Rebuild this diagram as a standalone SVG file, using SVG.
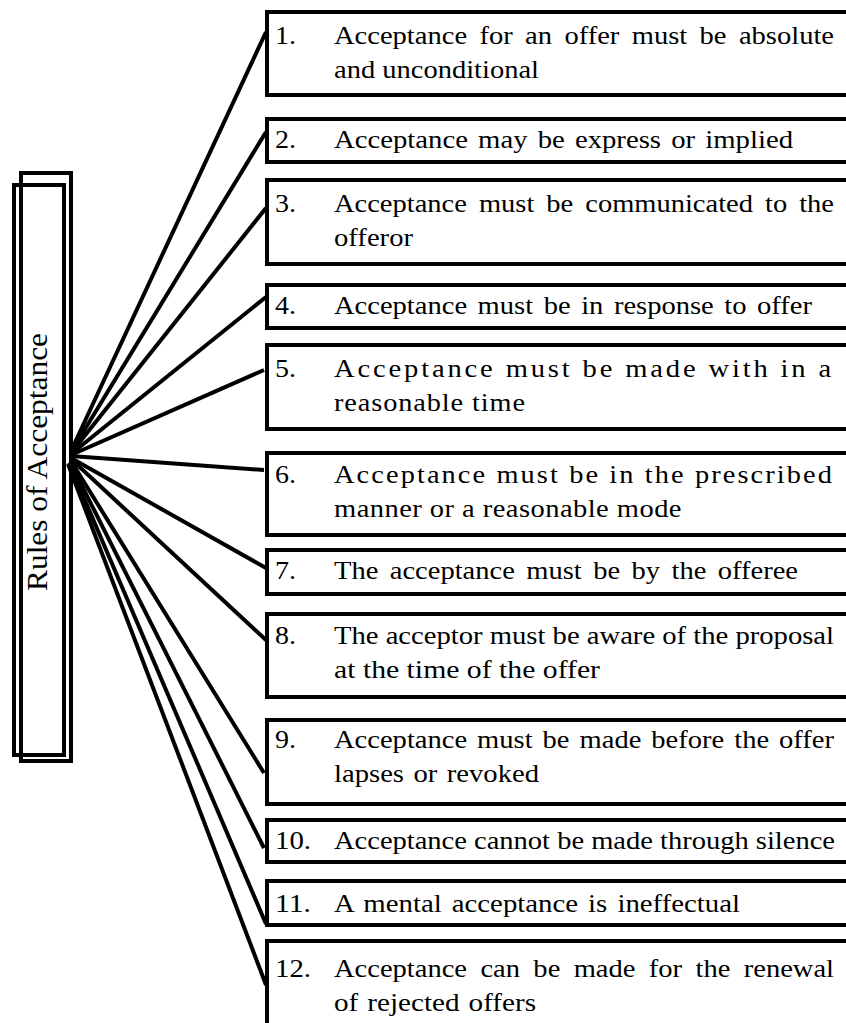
<svg xmlns="http://www.w3.org/2000/svg" width="846" height="1023" viewBox="0 0 846 1023">
  <style>
    .box { fill: #fff; stroke: #000; stroke-width: 4; }
    .frame { fill: none; stroke: #000; stroke-width: 4; }
    .conn line { stroke: #000; stroke-width: 4; stroke-linecap: butt; }
    text { font-family: "Liberation Serif", "Times New Roman", serif; font-size: 25px; fill: #000; }
    .title { font-size: 30px; }
  </style>

  <!-- connectors from the title bar to each rule -->
  <g id="connectors" class="conn">
    <line x1="71" y1="451" x2="266" y2="32"/>
    <line x1="71" y1="452" x2="266" y2="132"/>
    <line x1="71" y1="453" x2="266" y2="208"/>
    <line x1="71" y1="454" x2="266" y2="297"/>
    <line x1="71" y1="455" x2="264" y2="370"/>
    <line x1="71" y1="456" x2="264" y2="470"/>
    <line x1="71" y1="458" x2="266" y2="568"/>
    <line x1="71" y1="459" x2="266" y2="640"/>
    <line x1="71" y1="461" x2="264" y2="773"/>
    <line x1="70" y1="462" x2="264" y2="848"/>
    <line x1="69" y1="463" x2="266" y2="924"/>
    <line x1="68" y1="464" x2="266" y2="985"/>
  </g>

  <!-- vertical title bar, double outline -->
  <g id="title">
    <rect class="frame" x="21" y="173" width="50" height="588"/>
    <rect class="frame" x="14" y="185" width="50" height="570"/>
    <text class="title" transform="translate(47 462) rotate(-90)" text-anchor="middle" textLength="258" lengthAdjust="spacingAndGlyphs">Rules of Acceptance</text>
  </g>

  <g id="rule1">
    <rect class="box" x="267" y="12" width="600" height="83"/>
    <text x="275" y="44" textLength="21" lengthAdjust="spacingAndGlyphs">1.</text>
    <text x="334" y="44" word-spacing="4.6" textLength="500" lengthAdjust="spacingAndGlyphs">Acceptance for an offer must be absolute</text>
    <text x="334" y="78" textLength="205" lengthAdjust="spacingAndGlyphs">and unconditional</text>
  </g>

  <g id="rule2">
    <rect class="box" x="267" y="119" width="600" height="43"/>
    <text x="275" y="148" textLength="21" lengthAdjust="spacingAndGlyphs">2.</text>
    <text x="334" y="148" word-spacing="2.6" textLength="459" lengthAdjust="spacingAndGlyphs">Acceptance may be express or implied</text>
  </g>

  <g id="rule3">
    <rect class="box" x="267" y="180" width="600" height="84"/>
    <text x="275" y="212" textLength="21" lengthAdjust="spacingAndGlyphs">3.</text>
    <text x="334" y="212" word-spacing="4.3" textLength="500" lengthAdjust="spacingAndGlyphs">Acceptance must be communicated to the</text>
    <text x="334" y="246" textLength="79" lengthAdjust="spacingAndGlyphs">offeror</text>
  </g>

  <g id="rule4">
    <rect class="box" x="267" y="285" width="600" height="43"/>
    <text x="275" y="314" textLength="21" lengthAdjust="spacingAndGlyphs">4.</text>
    <text x="334" y="314" word-spacing="3" textLength="478" lengthAdjust="spacingAndGlyphs">Acceptance must be in response to offer</text>
  </g>

  <g id="rule5">
    <rect class="box" x="267" y="345" width="600" height="84"/>
    <text x="275" y="377" textLength="21" lengthAdjust="spacingAndGlyphs">5.</text>
    <text x="334" y="377" letter-spacing="2.5" textLength="500" lengthAdjust="spacingAndGlyphs">Acceptance must be made with in a</text>
    <text x="334" y="411" letter-spacing="0.8" textLength="192" lengthAdjust="spacingAndGlyphs">reasonable time</text>
  </g>

  <g id="rule6">
    <rect class="box" x="267" y="453" width="600" height="82"/>
    <text x="275" y="483" textLength="21" lengthAdjust="spacingAndGlyphs">6.</text>
    <text x="334" y="483" letter-spacing="1.85" textLength="500" lengthAdjust="spacingAndGlyphs">Acceptance must be in the prescribed</text>
    <text x="334" y="517" letter-spacing="0.4" textLength="348" lengthAdjust="spacingAndGlyphs">manner or a reasonable mode</text>
  </g>

  <g id="rule7">
    <rect class="box" x="267" y="550" width="600" height="44"/>
    <text x="275" y="579" textLength="21" lengthAdjust="spacingAndGlyphs">7.</text>
    <text x="334" y="579" word-spacing="3.8" textLength="464" lengthAdjust="spacingAndGlyphs">The acceptance must be by the offeree</text>
  </g>

  <g id="rule8">
    <rect class="box" x="267" y="614" width="600" height="83"/>
    <text x="275" y="644" textLength="21" lengthAdjust="spacingAndGlyphs">8.</text>
    <text x="334" y="644" textLength="500" lengthAdjust="spacingAndGlyphs">The acceptor must be aware of the proposal</text>
    <text x="334" y="678" textLength="266" lengthAdjust="spacingAndGlyphs">at the time of the offer</text>
  </g>

  <g id="rule9">
    <rect class="box" x="267" y="720" width="600" height="84"/>
    <text x="275" y="748" textLength="21" lengthAdjust="spacingAndGlyphs">9.</text>
    <text x="334" y="748" word-spacing="2.5" textLength="500" lengthAdjust="spacingAndGlyphs">Acceptance must be made before the offer</text>
    <text x="334" y="782" word-spacing="2" textLength="205" lengthAdjust="spacingAndGlyphs">lapses or revoked</text>
  </g>

  <g id="rule10">
    <rect class="box" x="267" y="820" width="600" height="42"/>
    <text x="275" y="849" textLength="36" lengthAdjust="spacingAndGlyphs">10.</text>
    <text x="334" y="849" textLength="501" lengthAdjust="spacingAndGlyphs">Acceptance cannot be made through silence</text>
  </g>

  <g id="rule11">
    <rect class="box" x="267" y="881" width="600" height="44"/>
    <text x="275" y="912" textLength="36" lengthAdjust="spacingAndGlyphs">11.</text>
    <text x="334" y="912" word-spacing="2.5" textLength="406" lengthAdjust="spacingAndGlyphs">A mental acceptance is ineffectual</text>
  </g>

  <g id="rule12">
    <rect class="box" x="267" y="941" width="600" height="85"/>
    <text x="275" y="977" textLength="36" lengthAdjust="spacingAndGlyphs">12.</text>
    <text x="334" y="977" word-spacing="5.5" textLength="500" lengthAdjust="spacingAndGlyphs">Acceptance can be made for the renewal</text>
    <text x="334" y="1011" word-spacing="1.5" textLength="202" lengthAdjust="spacingAndGlyphs">of rejected offers</text>
  </g>
</svg>
